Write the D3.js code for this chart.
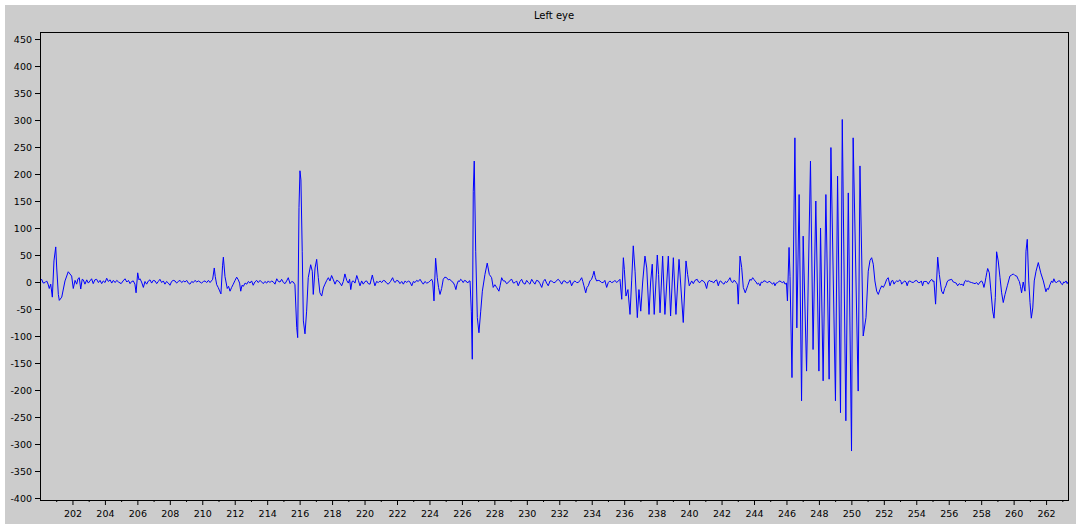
<!DOCTYPE html>
<html>
<head>
<meta charset="utf-8">
<script src="https://cdn.jsdelivr.net/npm/d3@7"></script>
<style>
  body { margin: 0; background: #fff; }
  text { font-family: "DejaVu Sans", sans-serif; fill: #000; }
</style>
</head>
<body>
<div id="chart"></div>
<script>
// Chart title and axis ticks
const title = "Left eye";
const xTicks = [202, 204, 206, 208, 210, 212, 214, 216, 218, 220, 222, 224, 226, 228, 230, 232,
  234, 236, 238, 240, 242, 244, 246, 248, 250, 252, 254, 256, 258, 260, 262];
const xMinorTicks = [201, 203, 205, 207, 209, 211, 213, 215, 217, 219, 221, 223, 225, 227, 229, 231,
  233, 235, 237, 239, 241, 243, 245, 247, 249, 251, 253, 255, 257, 259, 261, 263];
const yTicks = [-400, -350, -300, -250, -200, -150, -100, -50, 0, 50, 100, 150, 200, 250, 300, 350, 400, 450];

// Signal: sample times and values
const times = [
  200.00, 200.10, 200.20, 200.31, 200.41, 200.50, 200.57, 200.66, 200.76, 200.86, 200.97, 201.03, 201.13, 201.19, 201.34, 201.54,
  201.74, 201.95, 202.05, 202.16, 202.26, 202.34, 202.42, 202.51, 202.60, 202.67, 202.77, 202.88, 202.98, 203.08, 203.18, 203.28,
  203.38, 203.49, 203.60, 203.70, 203.80, 203.90, 204.01, 204.11, 204.21, 204.32, 204.42, 204.52, 204.63, 204.73, 204.84, 205.00,
  205.12, 205.24, 205.35, 205.45, 205.55, 205.65, 205.75, 205.85, 205.92, 206.02, 206.10, 206.16, 206.26, 206.37, 206.47, 206.57,
  206.68, 206.78, 206.88, 206.98, 207.09, 207.19, 207.29, 207.39, 207.50, 207.60, 207.70, 207.80, 207.91, 208.01, 208.11, 208.21,
  208.32, 208.42, 208.52, 208.63, 208.73, 208.84, 208.94, 209.04, 209.14, 209.24, 209.35, 209.45, 209.55, 209.66, 209.76, 209.86,
  209.96, 210.07, 210.17, 210.27, 210.38, 210.48, 210.56, 210.64, 210.74, 210.80, 210.89, 210.98, 211.05, 211.15, 211.25, 211.30,
  211.40, 211.54, 211.62, 211.71, 211.81, 211.91, 212.02, 212.12, 212.22, 212.30, 212.37, 212.45, 212.53, 212.64, 212.74, 212.84,
  212.94, 213.04, 213.14, 213.24, 213.35, 213.45, 213.56, 213.66, 213.76, 213.86, 213.97, 214.07, 214.17, 214.27, 214.38, 214.48,
  214.59, 214.69, 214.79, 214.89, 215.00, 215.10, 215.20, 215.30, 215.41, 215.51, 215.61, 215.71, 215.82, 215.88, 215.96, 216.02,
  216.08, 216.16, 216.23, 216.33, 216.43, 216.53, 216.68, 216.78, 216.84, 216.95, 217.05, 217.15, 217.25, 217.36, 217.46, 217.56,
  217.67, 217.77, 217.87, 217.97, 218.08, 218.18, 218.28, 218.38, 218.49, 218.59, 218.69, 218.79, 218.90, 219.00, 219.08, 219.15,
  219.23, 219.31, 219.41, 219.52, 219.62, 219.72, 219.82, 219.92, 220.03, 220.13, 220.23, 220.34, 220.48, 220.56, 220.64, 220.74,
  220.85, 220.95, 221.06, 221.16, 221.26, 221.36, 221.46, 221.60, 221.73, 221.80, 221.88, 221.98, 222.08, 222.18, 222.29, 222.39,
  222.50, 222.60, 222.70, 222.80, 222.91, 223.01, 223.11, 223.21, 223.31, 223.42, 223.52, 223.62, 223.72, 223.83, 223.93, 224.03,
  224.14, 224.20, 224.28, 224.38, 224.48, 224.56, 224.65, 224.75, 224.85, 224.95, 225.06, 225.16, 225.26, 225.37, 225.47, 225.55,
  225.63, 225.70, 225.78, 225.85, 225.92, 226.00, 226.08, 226.16, 226.25, 226.32, 226.39, 226.45, 226.50, 226.58, 226.64, 226.70,
  226.76, 226.85, 226.95, 227.05, 227.16, 227.26, 227.42, 227.56, 227.69, 227.83, 227.93, 228.03, 228.14, 228.28, 228.36, 228.45,
  228.55, 228.65, 228.75, 228.86, 228.96, 229.07, 229.17, 229.27, 229.37, 229.47, 229.58, 229.68, 229.78, 229.89, 229.99, 230.09,
  230.19, 230.30, 230.40, 230.50, 230.60, 230.71, 230.81, 230.92, 231.02, 231.12, 231.22, 231.32, 231.43, 231.53, 231.63, 231.74,
  231.84, 231.94, 232.05, 232.15, 232.25, 232.35, 232.46, 232.56, 232.66, 232.76, 232.87, 232.97, 233.07, 233.17, 233.28, 233.38,
  233.45, 233.52, 233.63, 233.71, 233.79, 233.89, 233.99, 234.07, 234.14, 234.22, 234.30, 234.40, 234.51, 234.61, 234.71, 234.81,
  234.92, 235.02, 235.12, 235.22, 235.33, 235.43, 235.54, 235.64, 235.74, 235.85, 235.95, 236.01, 236.11, 236.23, 236.36, 236.46,
  236.56, 236.67, 236.81, 236.91, 237.02, 237.14, 237.28, 237.39, 237.53, 237.63, 237.73, 237.85, 237.96, 238.04, 238.12, 238.21,
  238.37, 238.51, 238.72, 238.86, 239.03, 239.19, 239.38, 239.64, 239.81, 239.91, 240.01, 240.16, 240.26, 240.36, 240.50, 240.58,
  240.67, 240.77, 240.87, 240.98, 241.08, 241.16, 241.24, 241.34, 241.43, 241.51, 241.59, 241.70, 241.80, 241.88, 241.95, 242.05,
  242.15, 242.24, 242.32, 242.42, 242.52, 242.60, 242.69, 242.76, 242.83, 242.90, 242.97, 243.03, 243.14, 243.24, 243.34, 243.46,
  243.61, 243.75, 243.83, 243.92, 243.99, 244.06, 244.13, 244.20, 244.28, 244.37, 244.45, 244.53, 244.60, 244.68, 244.76, 244.85,
  244.92, 244.98, 245.06, 245.15, 245.22, 245.29, 245.37, 245.46, 245.53, 245.60, 245.68, 245.77, 245.84, 245.91, 246.00, 246.06,
  246.16, 246.22, 246.34, 246.52, 246.64, 246.78, 246.93, 247.03, 247.24, 247.48, 247.64, 247.81, 248.00, 248.10, 248.26, 248.43,
  248.63, 248.74, 249.02, 249.15, 249.33, 249.44, 249.66, 249.81, 250.01, 250.11, 250.42, 250.53, 250.73, 250.90, 251.04, 251.15,
  251.25, 251.35, 251.45, 251.56, 251.66, 251.76, 251.87, 251.97, 252.07, 252.18, 252.27, 252.38, 252.48, 252.55, 252.63, 252.71,
  252.79, 252.88, 252.99, 253.05, 253.10, 253.20, 253.30, 253.37, 253.44, 253.52, 253.61, 253.70, 253.81, 253.92, 254.02, 254.12,
  254.23, 254.31, 254.39, 254.46, 254.53, 254.64, 254.74, 254.85, 254.95, 255.02, 255.09, 255.19, 255.32, 255.42, 255.56, 255.66,
  255.75, 255.83, 255.90, 255.97, 256.08, 256.18, 256.28, 256.38, 256.46, 256.55, 256.65, 256.74, 256.82, 256.90, 256.97, 257.04,
  257.12, 257.20, 257.30, 257.41, 257.51, 257.62, 257.72, 257.82, 257.93, 258.03, 258.10, 258.17, 258.23, 258.29, 258.35, 258.40,
  258.50, 258.60, 258.71, 258.79, 258.87, 258.95, 259.05, 259.16, 259.26, 259.36, 259.47, 259.61, 259.77, 259.88, 259.98, 260.08,
  260.19, 260.28, 260.35, 260.42, 260.49, 260.59, 260.70, 260.76, 260.84, 260.93, 261.01, 261.09, 261.18, 261.27, 261.38, 261.52,
  261.67, 261.83, 261.99, 262.06, 262.14, 262.24, 262.34, 262.41, 262.48, 262.56, 262.65, 262.75, 262.85, 262.93, 263.01, 263.08,
  263.16, 263.23, 263.30, 263.35
];
const values = [
  2, 5, -2, -1, 2, -4, -12, -4, -28, 39, 65, 26, -23, -34, -28, 2,
  19, 11, -12, 3, -4, 6, 8, -13, 5, 4, -4, 4, -2, 2, 6, -3,
  4, 5, -1, 3, -3, 2, -1, 7, 1, 4, -2, 3, -1, 3, 0, -3,
  2, 6, 0, 3, -3, 1, 2, -4, -20, 17, 4, 6, 0, -10, 1, -4,
  2, 4, -2, 3, 2, -3, 1, 5, -1, 2, -4, 1, -2, -6, 1, 3,
  2, -2, 1, 3, -1, 2, 0, 3, -2, -4, 1, -1, 3, 0, 2, 0,
  -2, 1, 2, -1, 3, -1, 2, 5, 26, 10, -5, -10, -15, -22, 30, 46,
  10, -12, -8, -17, -10, -4, 3, 9, 4, -2, -17, -6, -8, -2, -4, 1,
  -2, 2, -6, 0, 3, -1, 3, 0, -3, 1, -2, 2, -1, 2, 0, -4,
  6, 1, 0, 5, -1, -3, 2, 8, -3, 1, 0, -5, -84, -103, 138, 206,
  189, 57, -72, -96, -54, 8, 32, 20, -23, 26, 42, 8, -20, -26, -11, -4,
  3, 8, 2, 12, 4, -4, 3, 2, -2, -7, 1, 15, 3, -2, 5, -14,
  1, 2, -2, 12, 3, -7, 2, -4, 1, 2, -3, -4, 13, 2, -7, 1,
  -1, 2, -1, 3, 2, -2, -4, 1, 8, 2, -1, 3, 2, -3, 1, -4,
  2, -1, 2, 0, -7, 1, -1, 3, 1, 5, 0, -4, 1, -2, -1, 2,
  5, 0, -35, 44, 8, -10, -23, -12, 5, 9, 8, 4, 5, 1, -1, -6,
  -14, -4, 2, 1, 5, 3, -1, 3, 2, -1, -1, 2, 2, -54, -143, 168,
  224, 57, -66, -94, -54, -17, 14, 35, 14, 8, -10, -5, -10, -17, -6, 8,
  2, 2, -3, -1, 3, 5, -2, -1, 2, -7, 1, 5, -2, -4, 3, -1,
  -4, 5, 0, -4, 3, 2, -3, -10, 1, 5, -2, -7, 2, 2, -1, -1,
  3, 5, 1, -4, 2, 2, -2, -1, 3, -7, 0, 2, -1, -1, 3, 8,
  1, -7, -20, -10, -7, 2, 5, 12, 20, 8, 2, 3, 2, -1, -1, 3,
  -10, -1, 2, -1, 0, 3, -1, 2, 5, -32, 45, 23, -26, -14, -60, 2,
  67, 20, -66, -14, -54, 0, 48, 26, -60, 0, 33, -60, 2, 50, 14, -57,
  48, -60, 48, -63, 45, -60, 42, -75, 39, 14, -7, 2, -3, 3, 5, 0,
  -1, 3, 2, -2, -12, 0, 3, 1, 1, -2, 2, 4, -7, 1, 2, -2,
  -4, 1, -1, 3, 8, 1, -1, 3, 2, -1, -4, -41, 48, 27, -10, -20,
  -7, 5, 3, 8, 5, 2, 0, -4, -2, -7, 0, -1, 2, 2, 0, -1,
  1, 1, -2, -4, -1, -7, -2, -1, 1, 2, 0, -1, 1, -4, -2, -35,
  64, 10, -177, 267, -85, 162, -220, 85, -165, 224, -125, 150, -165, 100, -183, 162,
  -180, 249, -220, 196, -242, 301, -257, 165, -313, 267, -202, 215, -100, -66, 20, 40,
  45, 33, 2, -17, -23, -14, -7, -10, -4, 5, 8, -7, 2, 3, -4, 0,
  2, 1, 4, 1, -4, 0, 2, 0, -7, 1, 2, 0, -1, 2, 3, -1,
  -1, 2, -7, 1, 1, 1, -4, 2, 5, 1, 2, -41, 46, 14, -17, -22,
  -12, -7, 0, 3, 4, 5, 0, -1, -2, -7, -3, -5, -4, -7, 0, 3,
  1, 2, 0, -1, -2, -3, -1, -5, 0, 2, -2, -10, -2, 8, 18, 25,
  17, -17, -54, -67, -29, 56, 39, 8, -20, -38, -23, -7, 11, 13, 15, 12,
  11, 5, 1, -8, -20, 0, -17, 57, 79, 2, -38, -67, -48, 2, 20, 36,
  17, 2, -18, -12, -14, -5, 2, -1, 6, 0, -1, 2, 2, -3, -5, 0,
  -1, 2, -3, 0
];

const data = times.map((t, i) => ({ t: t, v: values[i] }));

const W = 1076, H = 524;
const margin = { top: 32, right: 8, bottom: 24, left: 40 };

const svg = d3.select("#chart")
  .append("svg")
  .attr("width", W)
  .attr("height", H);

// grey figure background, white strip at top and left
svg.append("rect")
  .attr("x", 5)
  .attr("y", 5)
  .attr("width", W - 5)
  .attr("height", H - 5)
  .attr("fill", "#cccccc");

const x = d3.scaleLinear()
  .domain([200, 263.35])
  .range([margin.left, W - margin.right]);

const y = d3.scaleLinear()
  .domain([-403.7, 463])
  .range([H - margin.bottom, margin.top]);

// title
svg.append("text")
  .attr("x", 554)
  .attr("y", 18.5)
  .attr("text-anchor", "middle")
  .style("font-size", "10px")
  .text(title);

// clip for the signal
svg.append("clipPath")
  .attr("id", "plot-clip")
  .append("rect")
  .attr("x", margin.left)
  .attr("y", margin.top)
  .attr("width", W - margin.left - margin.right)
  .attr("height", H - margin.top - margin.bottom);

const line = d3.line()
  .x(d => x(d.t))
  .y(d => y(d.v));

svg.append("path")
  .datum(data)
  .attr("clip-path", "url(#plot-clip)")
  .attr("fill", "none")
  .attr("stroke", "#0000ff")
  .attr("stroke-width", 1)
  .attr("stroke-linejoin", "miter")
  .attr("d", line);

// axes
const yAxis = svg.append("g")
  .attr("transform", `translate(${margin.left},0)`)
  .call(d3.axisLeft(y)
    .tickValues(yTicks)
    .tickSize(5)
    .tickSizeOuter(0)
    .tickPadding(3)
    .tickFormat(d => String(d)));

const xAxis = svg.append("g")
  .attr("transform", `translate(0,${H - margin.bottom})`)
  .call(d3.axisBottom(x)
    .tickValues(xTicks)
    .tickSize(5)
    .tickSizeOuter(0)
    .tickPadding(5)
    .tickFormat(d => String(d)));

const xMinor = svg.append("g")
  .attr("transform", `translate(0,${H - margin.bottom})`)
  .call(d3.axisBottom(x)
    .tickValues(xMinorTicks)
    .tickSize(2)
    .tickSizeOuter(0)
    .tickFormat(""));

[yAxis, xAxis, xMinor].forEach(g => {
  g.select(".domain").remove();
  g.selectAll("text").style("font-size", "9.5px").attr("fill", "#000");
  g.selectAll("line").attr("stroke", "#000");
});

// frame around the plot
svg.append("rect")
  .attr("x", margin.left + 0.5)
  .attr("y", margin.top + 0.5)
  .attr("width", W - margin.left - margin.right)
  .attr("height", H - margin.top - margin.bottom)
  .attr("fill", "none")
  .attr("stroke", "#000")
  .attr("stroke-width", 1);
</script>
</body>
</html>
